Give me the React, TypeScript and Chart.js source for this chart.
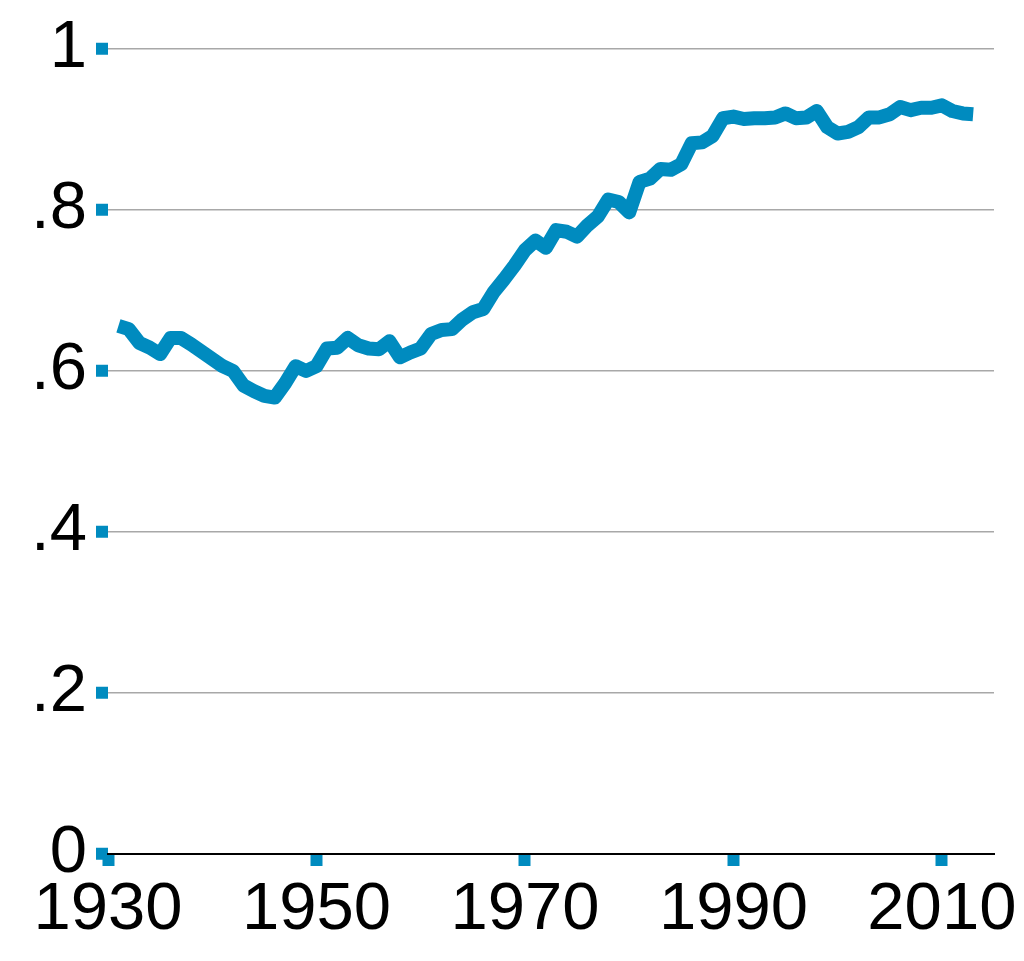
import React, { useEffect, useRef } from "react";
import { Chart, registerables } from "chart.js";

Chart.register(...registerables);

const years: number[] = [
  1931, 1932, 1933, 1934, 1935, 1936, 1937, 1938, 1939, 1940,
  1941, 1942, 1943, 1944, 1945, 1946, 1947, 1948, 1949, 1950,
  1951, 1952, 1953, 1954, 1955, 1956, 1957, 1958, 1959, 1960,
  1961, 1962, 1963, 1964, 1965, 1966, 1967, 1968, 1969, 1970,
  1971, 1972, 1973, 1974, 1975, 1976, 1977, 1978, 1979, 1980,
  1981, 1982, 1983, 1984, 1985, 1986, 1987, 1988, 1989, 1990,
  1991, 1992, 1993, 1994, 1995, 1996, 1997, 1998, 1999, 2000,
  2001, 2002, 2003, 2004, 2005, 2006, 2007, 2008, 2009, 2010,
  2011, 2012, 2013,
];

const values: number[] = [
  0.656, 0.652, 0.635, 0.629, 0.621, 0.641, 0.641, 0.633, 0.624, 0.615,
  0.606, 0.600, 0.582, 0.575, 0.569, 0.567, 0.585, 0.606, 0.600, 0.606,
  0.628, 0.629, 0.641, 0.632, 0.628, 0.627, 0.637, 0.617, 0.623, 0.628,
  0.646, 0.651, 0.652, 0.664, 0.673, 0.677, 0.698, 0.714, 0.731, 0.750,
  0.762, 0.753, 0.775, 0.773, 0.767, 0.781, 0.792, 0.813, 0.810, 0.797,
  0.835, 0.839, 0.851, 0.850, 0.857, 0.883, 0.884, 0.892, 0.914, 0.916,
  0.913, 0.914, 0.914, 0.915, 0.920, 0.914, 0.915, 0.923, 0.903, 0.895,
  0.897, 0.903, 0.915, 0.915, 0.919, 0.928, 0.924, 0.927, 0.927, 0.930,
  0.923, 0.920, 0.919,
];

const xTicks: number[] = [1930, 1950, 1970, 1990, 2010];
const yTicks: number[] = [0, 0.2, 0.4, 0.6, 0.8, 1];
const yTickLabels: string[] = ["0", ".2", ".4", ".6", ".8", "1"];

const BLUE = "rgb(0,139,191)";
const FONT = { family: "'Liberation Sans', Arial, sans-serif", size: 67, lineHeight: 1 };

export default function App() {
  const ref = useRef<HTMLCanvasElement | null>(null);

  useEffect(() => {
    const canvas = ref.current;
    if (!canvas) return;
    const chart = new Chart(canvas, {
      type: "line",
      data: {
        datasets: [
          {
            data: years.map((y, i) => ({ x: y, y: values[i] })),
            borderColor: BLUE,
            borderWidth: 14,
            borderJoinStyle: "round",
            borderCapStyle: "butt",
            pointRadius: 0,
            tension: 0,
            fill: false,
          },
        ],
      },
      options: {
        animation: false,
        responsive: false,
        devicePixelRatio: 1,
        layout: { padding: { top: 49, right: 30, left: 0, bottom: 0 } },
        plugins: { legend: { display: false }, tooltip: { enabled: false } },
        scales: {
          x: {
            type: "linear",
            min: 1930,
            max: 2015,
            afterFit: (s: any) => {
              s.height = 107;
              s.paddingLeft = 0;
              s.paddingRight = 0;
            },
            afterBuildTicks: (s: any) => {
              s.ticks = xTicks.map((v) => ({ value: v }));
            },
            ticks: {
              color: "#000",
              font: FONT,
              padding: 11,
              maxRotation: 0,
              autoSkip: false,
              callback: (v: any) => String(v),
            },
            grid: {
              drawOnChartArea: false,
              drawTicks: true,
              tickLength: 12,
              tickWidth: 12,
              tickColor: BLUE,
            },
            border: { display: true, color: "#000", width: 2 },
          },
          y: {
            type: "linear",
            min: 0,
            max: 1,
            afterFit: (s: any) => {
              s.width = 108;
              s.paddingTop = 0;
              s.paddingBottom = 0;
            },
            afterBuildTicks: (s: any) => {
              s.ticks = yTicks.map((v) => ({ value: v }));
            },
            ticks: {
              color: "#000",
              font: FONT,
              padding: 9,
              autoSkip: false,
              callback: (v: any) => {
                const i = yTicks.findIndex((t) => Math.abs(t - Number(v)) < 1e-9);
                return i >= 0 ? yTickLabels[i] : "";
              },
            },
            grid: {
              color: "#a8a8a8",
              lineWidth: 1.5,
              drawTicks: true,
              tickLength: 12,
              tickWidth: 12,
              tickColor: BLUE,
            },
            border: { display: false },
          },
        },
      },
    });
    return () => chart.destroy();
  }, []);

  return (
    <div style={{ position: "absolute", left: 0, top: 0, width: 1024, height: 961, background: "#fff" }}>
      <canvas ref={ref} width={1024} height={961} style={{ display: "block", width: 1024, height: 961 }} />
    </div>
  );
}
